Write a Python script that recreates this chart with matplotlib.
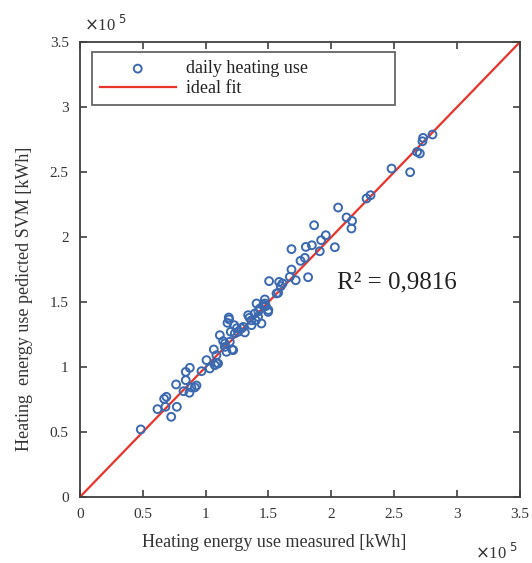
import matplotlib.pyplot as plt
import numpy as np

plt.rcParams['font.family'] = ['Liberation Serif', 'DejaVu Serif']

# measured vs predicted daily heating use, units of 1e5 kWh
measured = [0.485, 0.618, 0.681, 0.727, 0.772, 0.671, 0.689, 0.766, 0.825, 0.872,
            0.888, 0.915, 0.928, 0.843, 0.843, 0.875, 0.968, 1.008, 1.034, 1.074,
            1.087, 1.066, 1.087, 1.100, 1.114, 1.154, 1.167, 1.212, 1.220, 1.154,
            1.193, 1.188, 1.175, 1.228, 1.201, 1.233, 1.259, 1.286, 1.313, 1.185,
            1.339, 1.366, 1.392, 1.406, 1.432, 1.445, 1.472, 1.498, 1.418, 1.365,
            1.500, 1.460, 1.565, 1.472, 1.578, 1.599, 1.613, 1.586, 1.506, 1.718,
            1.671, 1.816, 1.684, 1.756, 1.790, 1.684, 1.846, 1.798, 2.029, 1.909,
            1.920, 1.957, 1.864, 2.161, 2.166, 2.122, 2.055, 2.313, 2.281, 2.628,
            2.480, 2.705, 2.683, 2.726, 2.731, 2.806, 1.140, 1.250, 1.300, 1.350,
            1.420, 1.400, 1.480]
predicted = [0.521, 0.677, 0.695, 0.618, 0.695, 0.756, 0.772, 0.867, 0.815, 0.803,
             0.844, 0.844, 0.859, 0.900, 0.964, 0.995, 0.969, 1.054, 0.990, 1.015,
             1.033, 1.136, 1.092, 1.028, 1.246, 1.182, 1.118, 1.136, 1.131, 1.156,
             1.195, 1.367, 1.341, 1.323, 1.272, 1.259, 1.272, 1.298, 1.267, 1.382,
             1.400, 1.323, 1.413, 1.490, 1.451, 1.336, 1.490, 1.425, 1.387, 1.360,
             1.440, 1.480, 1.567, 1.521, 1.572, 1.623, 1.644, 1.656, 1.662, 1.669,
             1.695, 1.692, 1.751, 1.818, 1.841, 1.908, 1.938, 1.925, 1.923, 1.892,
             1.977, 2.015, 2.092, 2.067, 2.125, 2.152, 2.228, 2.323, 2.298, 2.500,
             2.528, 2.644, 2.656, 2.738, 2.764, 2.790, 1.200, 1.300, 1.310, 1.380,
             1.430, 1.360, 1.470]
ticks = [0, 0.5, 1, 1.5, 2, 2.5, 3, 3.5]
tick_labels = ['0', '0.5', '1', '1.5', '2', '2.5', '3', '3.5']

fig = plt.figure(figsize=(5.32, 5.63), dpi=100)
ax = fig.add_axes([0.150, 0.117, 0.827, 0.808])

ax.scatter(measured, predicted, s=32, facecolors='none', edgecolors='#3b69b0',
           linewidths=1.4, label='daily heating use', zorder=3)
ax.plot([0, 3.5], [0, 3.5], color='#e8332b', lw=1.6, label='ideal fit', zorder=2)

ax.set_xlim(0, 3.5)
ax.set_ylim(0, 3.5)
ax.set_xticks(ticks)
ax.set_xticklabels(tick_labels)
ax.set_yticks(ticks)
ax.set_yticklabels(tick_labels)
ax.tick_params(direction='in', top=True, right=True, length=5, width=1.2,
               color='#404040', labelsize=11, labelcolor='#333333', pad=8)
for sp in ax.spines.values():
    sp.set_color('#404040')
    sp.set_linewidth(1.3)

ax.set_xlabel('Heating energy use measured [kWh]', fontsize=13, color='#333333')
ax.set_ylabel('Heating  energy use pedicted SVM [kWh]', fontsize=13, color='#333333')
ax.xaxis.set_label_coords(0.442, -0.081)
ax.yaxis.set_label_coords(-0.107, 0.437)

ax.text(0.72, 0.473, 'R² = 0,9816', transform=ax.transAxes, fontsize=18,
        color='#222222', ha='center', va='center')

fig.text(0.158, 0.955, r'$\times$10 $^5$', fontsize=12, color='#333333', va='center')
fig.text(0.893, 0.018, r'$\times$10 $^5$', fontsize=12, color='#333333', va='center')

leg = ax.legend(loc='upper left', bbox_to_anchor=(0.027, 0.855, 0.689, 0.123),
                mode='expand', fontsize=13,
                frameon=True, fancybox=False, handlelength=4.2, handletextpad=0.6,
                borderpad=0.45, labelspacing=0.15, borderaxespad=0)
leg.get_frame().set_edgecolor('#404040')
leg.get_frame().set_linewidth(1.3)
for t in leg.get_texts():
    t.set_color('#222222')

fig.savefig('out.png', dpi=100)
